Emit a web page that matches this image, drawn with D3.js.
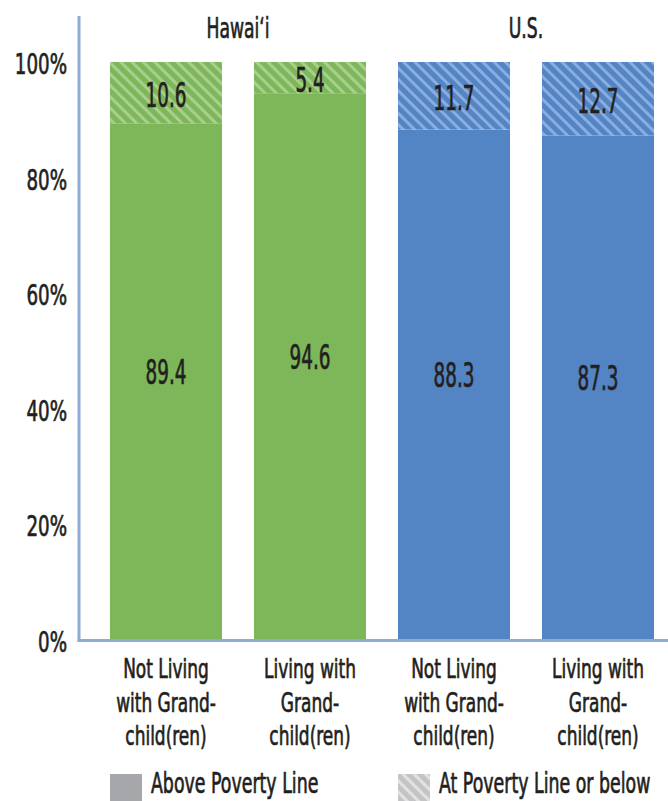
<!DOCTYPE html>
<html>
<head>
<meta charset="utf-8">
<script src="https://cdn.jsdelivr.net/npm/d3@7"></script>
<style>
  body { margin: 0; background: #fff; }
  text { font-family: "DejaVu Sans Condensed", "DejaVu Sans", sans-serif; fill: #231f20;
         stroke: #231f20; stroke-width: 0.7px; }
</style>
</head>
<body>
<div id="chart"></div>
<script>
const W = 668, H = 801

// data
const groups = ["Hawai‘i", "U.S."]
const barGroup = ["Hawai‘i", "Hawai‘i", "U.S.", "U.S."]
const barLabels = [
  ["Not Living", "with Grand-", "child(ren)"],
  ["Living with", "Grand-", "child(ren)"],
  ["Not Living", "with Grand-", "child(ren)"],
  ["Living with", "Grand-", "child(ren)"]
]
const abovePoverty = [89.4, 94.6, 88.3, 87.3]
const atOrBelow = [10.6, 5.4, 11.7, 12.7]
const yTicks = [0, 20, 40, 60, 80, 100]
const legendLabels = ["Above Poverty Line", "At Poverty Line or below"]

const colors = { "Hawai‘i": "#7eb75a", "U.S.": "#5384c4" }
const stripes = { "Hawai‘i": "#a9cf8e", "U.S.": "#8aaddf" }

const svg = d3.select("#chart").append("svg")
  .attr("width", W).attr("height", H)

const ids = d3.range(abovePoverty.length)
const x = d3.scaleBand().domain(ids).range([94, 670]).paddingInner(0.222).paddingOuter(0.111)
const y = d3.scaleLinear().domain([0, 100]).range([640, 62])

// hatch patterns
const defs = svg.append("defs")
function hatch(id, base, light) {
  const p = defs.append("pattern")
    .attr("id", id)
    .attr("patternUnits", "userSpaceOnUse")
    .attr("width", 8).attr("height", 8)
    .attr("patternTransform", "rotate(-45)")
  p.append("rect").attr("width", 8).attr("height", 8).attr("fill", base)
  p.append("rect").attr("width", 3).attr("height", 8).attr("fill", light)
}
hatch("h-Hawaii", colors["Hawai‘i"], stripes["Hawai‘i"])
hatch("h-US", colors["U.S."], stripes["U.S."])
hatch("h-grey", "#c4c4c6", "#e2e2e3")
const patId = g => g === "U.S." ? "url(#h-US)" : "url(#h-Hawaii)"

// condensed text helper (the original face is a narrow one)
function ctext(sel, tx, ty, str, size, sx, anchor) {
  return sel.append("text")
    .attr("transform", `translate(${tx},${ty}) scale(${sx},1)`)
    .attr("text-anchor", anchor || "middle")
    .attr("font-size", size)
    .text(str)
}

// bars
const bars = svg.append("g")
bars.selectAll("rect.above").data(ids).join("rect")
  .attr("class", "above")
  .attr("x", i => x(i)).attr("width", x.bandwidth())
  .attr("y", i => y(abovePoverty[i])).attr("height", i => y(0) - y(abovePoverty[i]))
  .attr("fill", i => colors[barGroup[i]])
bars.selectAll("rect.below").data(ids).join("rect")
  .attr("class", "below")
  .attr("x", i => x(i)).attr("width", x.bandwidth())
  .attr("y", i => y(100)).attr("height", i => y(abovePoverty[i]) - y(100))
  .attr("fill", i => patId(barGroup[i]))

// value labels
ids.forEach(i => {
  const cx = x(i) + x.bandwidth() / 2
  ctext(svg, cx, (y(0) + y(abovePoverty[i])) / 2 + 2, abovePoverty[i].toFixed(1), 33, 0.62)
  ctext(svg, cx, (y(100) + y(abovePoverty[i])) / 2 + 14, atOrBelow[i].toFixed(1), 33, 0.62)
})

// y axis
const yAxis = svg.append("g").attr("transform", "translate(79,0)")
  .call(d3.axisLeft(y).tickValues(yTicks).tickSize(0).tickPadding(11).tickFormat(d => d + "%"))
yAxis.select(".domain").remove()
yAxis.selectAll("text").remove()
yTicks.forEach(t => ctext(yAxis, -12, y(t) + 12, t + "%", 29, 0.7, "end"))

svg.append("line").attr("x1", 79).attr("x2", 79).attr("y1", 16).attr("y2", 641)
  .attr("stroke", "#8fabd5").attr("stroke-width", 3)
svg.append("line").attr("x1", 77.5).attr("x2", W).attr("y1", 640.5).attr("y2", 640.5)
  .attr("stroke", "#8fabd5").attr("stroke-width", 3)

// category labels
ids.forEach(i => {
  const cx = x(i) + x.bandwidth() / 2
  barLabels[i].forEach((line, k) => ctext(svg, cx, 678 + k * 33.5, line, 27, 0.7))
})

// group titles
groups.forEach(g => {
  const idx = ids.filter(i => barGroup[i] === g)
  const cx = (x(idx[0]) + x(idx[idx.length - 1]) + x.bandwidth()) / 2
  ctext(svg, cx, 38, g, 29, 0.66)
})

// legend
const legX = [x(0), x(2)]
const legFill = ["#a6a7aa", "url(#h-grey)"]
legendLabels.forEach((lab, k) => {
  svg.append("rect").attr("x", legX[k]).attr("y", 774).attr("width", 32).attr("height", 27)
    .attr("fill", legFill[k])
  ctext(svg, legX[k] + 41, 793, lab, 28, 0.69, "start")
})
</script>
</body>
</html>
